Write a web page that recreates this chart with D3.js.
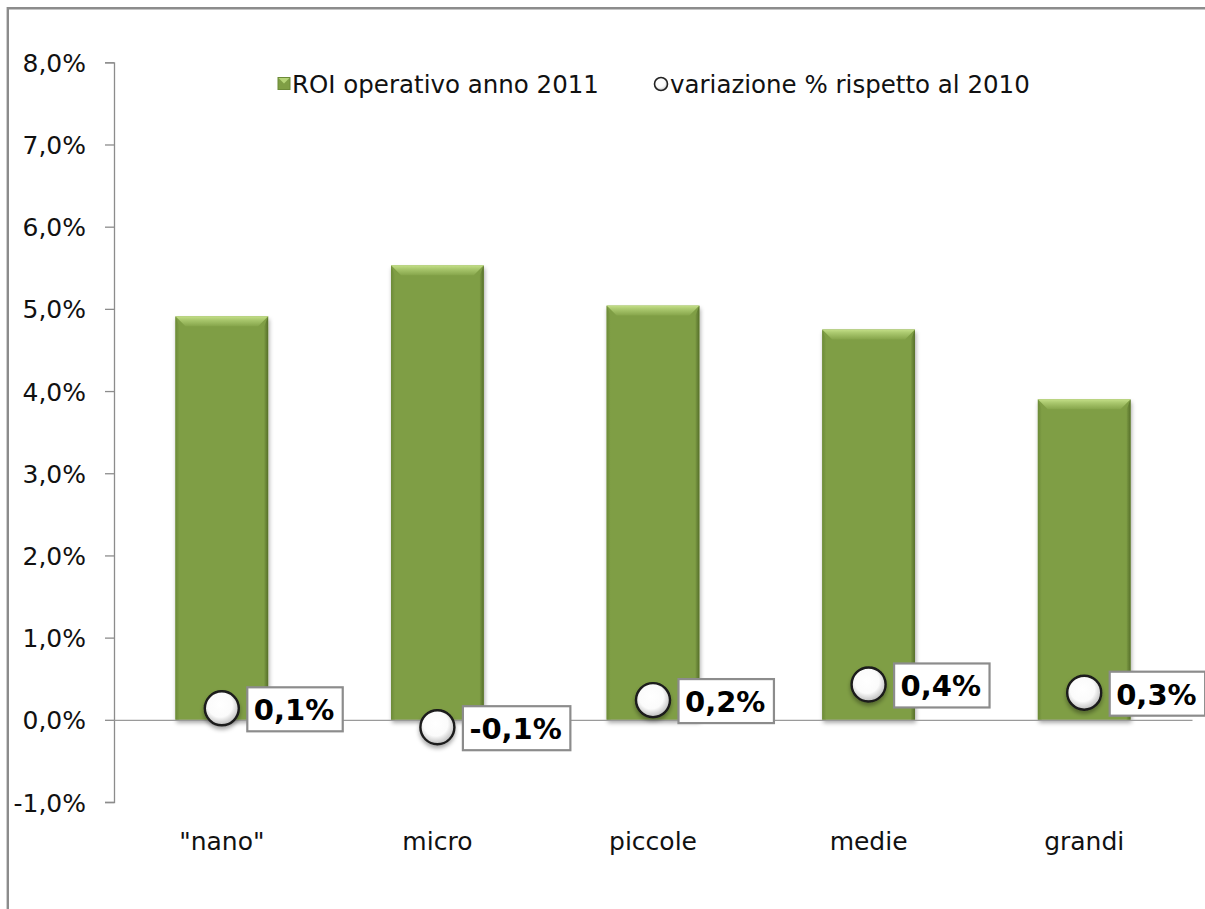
<!DOCTYPE html>
<html>
<head>
<meta charset="utf-8">
<script src="https://cdn.jsdelivr.net/npm/d3@7"></script>
<style>
  html, body { margin: 0; padding: 0; background: #ffffff; }
  svg { display: block; }
</style>
</head>
<body>
<svg id="chart" width="1205" height="909"></svg>
<script>
// Categories (company size classes)
const categories = ['"nano"', "micro", "piccole", "medie", "grandi"];
// ROI operativo 2011, percent
const roi2011 = [4.91, 5.53, 5.04, 4.75, 3.90];
// Variazione % rispetto al 2010, percentage points
const variation = [0.14, -0.09, 0.24, 0.43, 0.33];
// Y axis tick values, percent
const yTicks = [-1, 0, 1, 2, 3, 4, 5, 6, 7, 8];
// Legend entries
const seriesNames = ["ROI operativo anno 2011", "variazione % rispetto al 2010"];

const itLocale = d3.formatLocale({ decimal: ",", thousands: ".", grouping: [3], currency: ["€", ""], minus: "-" });
const fmtPct = itLocale.format(".1%");

const svg = d3.select("#chart");
const W = 1205, H = 909;

const x = d3.scaleBand().domain(categories).range([114, 1192]).padding(0);
const y = d3.scaleLinear().domain([-1, 8]).range([802, 62.3]);
const barW = x.bandwidth() * 0.43;

const defs = svg.append("defs");

// bar drop shadow
const fs = defs.append("filter").attr("id", "barShadow")
  .attr("x", "-20%").attr("y", "-10%").attr("width", "140%").attr("height", "130%");
fs.append("feDropShadow").attr("dx", 1).attr("dy", 3).attr("stdDeviation", 2.2)
  .attr("flood-color", "#000").attr("flood-opacity", 0.35);

// marker drop shadow
const fm = defs.append("filter").attr("id", "dotShadow")
  .attr("x", "-50%").attr("y", "-50%").attr("width", "200%").attr("height", "220%");
fm.append("feDropShadow").attr("dx", 0).attr("dy", 3).attr("stdDeviation", 2)
  .attr("flood-color", "#000").attr("flood-opacity", 0.35);

// bar bevel gradients
const gTop = defs.append("linearGradient").attr("id", "bevelTop")
  .attr("x1", 0).attr("y1", 0).attr("x2", 0).attr("y2", 1);
gTop.append("stop").attr("offset", "0%").attr("stop-color", "#c4df88");
gTop.append("stop").attr("offset", "35%").attr("stop-color", "#aac86e");
gTop.append("stop").attr("offset", "100%").attr("stop-color", "#86a54b");

const gLeft = defs.append("linearGradient").attr("id", "bevelLeft")
  .attr("x1", 0).attr("y1", 0).attr("x2", 1).attr("y2", 0);
gLeft.append("stop").attr("offset", "0%").attr("stop-color", "#6c8a38");
gLeft.append("stop").attr("offset", "100%").attr("stop-color", "#7f9e45");

const gRight = defs.append("linearGradient").attr("id", "bevelRight")
  .attr("x1", 0).attr("y1", 0).attr("x2", 1).attr("y2", 0);
gRight.append("stop").attr("offset", "0%").attr("stop-color", "#7a9842");
gRight.append("stop").attr("offset", "100%").attr("stop-color", "#566f2a");

// marker fill
const gDot = defs.append("radialGradient").attr("id", "dotFill")
  .attr("cx", "45%").attr("cy", "40%").attr("r", "60%");
gDot.append("stop").attr("offset", "0%").attr("stop-color", "#ffffff");
gDot.append("stop").attr("offset", "60%").attr("stop-color", "#fbfbfb");
gDot.append("stop").attr("offset", "100%").attr("stop-color", "#bdbdbd");

// outer frame (left and top edges)
svg.append("path")
  .attr("d", `M7.8,${H} L7.8,8.3 L${W},8.3`)
  .attr("fill", "none").attr("stroke", "#8c8c8c").attr("stroke-width", 2.4);

// bars
const bars = svg.append("g").selectAll("g.bar")
  .data(categories.map((c, i) => ({ c, v: roi2011[i] })))
  .join("g").attr("class", "bar");

bars.each(function(d) {
  const g = d3.select(this);
  const x0 = x(d.c) + (x.bandwidth() - barW) / 2;
  const x1 = x0 + barW;
  const yt = y(d.v), yb = y(0);
  const bt = 10, bs = 4;
  g.append("rect").attr("x", x0).attr("y", yt).attr("width", barW).attr("height", yb - yt)
    .attr("fill", "#7f9e45").attr("filter", "url(#barShadow)");
  g.append("polygon")
    .attr("points", [[x0, yt], [x0 + bs, yt + bt], [x0 + bs, yb], [x0, yb]].join(" "))
    .attr("fill", "url(#bevelLeft)");
  g.append("polygon")
    .attr("points", [[x1, yt], [x1 - bs, yt + bt], [x1 - bs, yb], [x1, yb]].join(" "))
    .attr("fill", "url(#bevelRight)");
  g.append("polygon")
    .attr("points", [[x0, yt], [x1, yt], [x1 - bs - 6, yt + bt], [x0 + bs + 6, yt + bt]].join(" "))
    .attr("fill", "url(#bevelTop)");
});

// y axis
const yAxis = d3.axisLeft(y).tickValues(yTicks)
  .tickFormat(v => fmtPct(v / 100)).tickSize(9).tickPadding(19);
const gy = svg.append("g").attr("transform", "translate(114,0)").call(yAxis);
gy.select(".domain").attr("stroke", "#8c8c8c").attr("stroke-width", 1.3);
gy.selectAll(".tick line").attr("stroke", "#8c8c8c").attr("stroke-width", 1.3);
gy.selectAll(".tick text")
  .attr("fill", "#111").attr("font-family", "'DejaVu Sans', sans-serif")
  .attr("font-size", "25px").attr("dy", "0.36em");

// zero baseline / category axis
const xAxis = d3.axisBottom(x).tickSize(0).tickPadding(112);
const gx = svg.append("g").attr("transform", `translate(0,${y(0)})`).call(xAxis);
gx.select(".domain").attr("stroke", "#9a9a9a").attr("stroke-width", 1.3);
gx.selectAll(".tick text")
  .attr("fill", "#111").attr("font-family", "'DejaVu Sans', sans-serif")
  .attr("font-size", "25px");

// variation markers with boxed labels
const dots = svg.append("g").selectAll("g.dot")
  .data(categories.map((c, i) => ({ c, v: variation[i] })))
  .join("g").attr("class", "dot");

dots.each(function(d) {
  const g = d3.select(this);
  const cx = x(d.c) + x.bandwidth() / 2;
  const cy = y(d.v);
  g.append("circle").attr("cx", cx).attr("cy", cy).attr("r", 17)
    .attr("fill", "url(#dotFill)").attr("stroke", "#1a1a1a").attr("stroke-width", 2.4)
    .attr("filter", "url(#dotShadow)");
  const box = g.append("rect");
  const t = g.append("text")
    .attr("x", cx + 32).attr("y", cy + 1.5)
    .attr("dy", "0.36em")
    .attr("font-family", "'DejaVu Sans', sans-serif").attr("font-weight", "bold")
    .attr("font-size", "29px").attr("fill", "#000")
    .text(fmtPct(d.v / 100));
  const bb = t.node().getBBox();
  box.attr("x", cx + 25.5).attr("y", cy - 21)
    .attr("width", bb.width + 15).attr("height", 44)
    .attr("fill", "#fff").attr("stroke", "#8c8c8c").attr("stroke-width", 2.2);
});

// legend
const lg = svg.append("g");
lg.append("rect").attr("x", 278).attr("y", 77.5).attr("width", 12).attr("height", 12)
  .attr("fill", "#7f9e45").attr("stroke", "#6c8a38").attr("stroke-width", 1);
lg.append("polygon").attr("points", "278.5,78 289.5,78 284,83.5").attr("fill", "#b6d478");
lg.append("text").attr("x", 292).attr("y", 84).attr("dy", "0.36em")
  .attr("font-family", "'DejaVu Sans', sans-serif").attr("font-size", "24.5px").attr("fill", "#111")
  .text(seriesNames[0]);
lg.append("circle").attr("cx", 661).attr("cy", 84).attr("r", 6.5)
  .attr("fill", "url(#dotFill)").attr("stroke", "#222").attr("stroke-width", 1.6);
lg.append("text").attr("x", 670).attr("y", 84).attr("dy", "0.36em")
  .attr("font-family", "'DejaVu Sans', sans-serif").attr("font-size", "24.5px").attr("fill", "#111")
  .text(seriesNames[1]);
</script>
</body>
</html>
